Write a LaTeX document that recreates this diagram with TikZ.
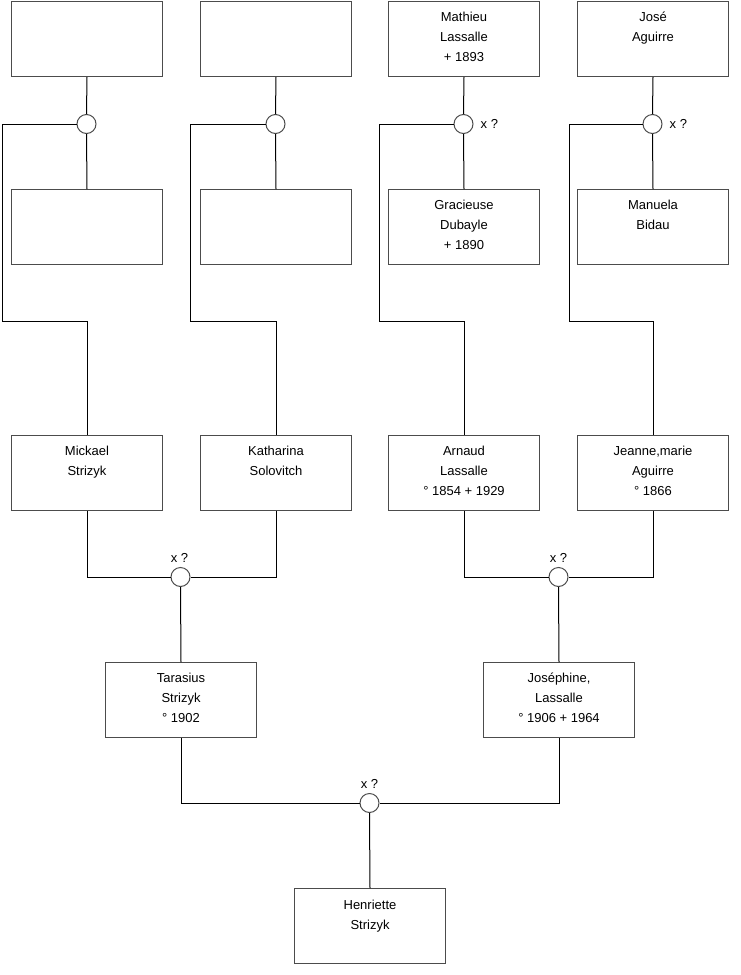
\documentclass[tikz,border=0pt]{standalone}
\usepackage{fontspec}
\setmainfont{Liberation Sans}
\begin{document}
\begin{tikzpicture}[x=1pt,y=-1pt,
  box/.style={draw=black!70, line width=1pt, minimum width=151pt, minimum height=75pt, inner sep=0pt, anchor=north west, fill=white},
  txt/.style={anchor=north, align=center, inner sep=0pt, font=\fontsize{13}{20}\selectfont},
  ring/.style={circle, draw=black!70, line width=1pt, minimum size=19pt, inner sep=0pt, fill=white},
  wire/.style={draw=black, line width=1pt},
  lbl/.style={font=\fontsize{13}{15}\selectfont, inner sep=0pt}]
\useasboundingbox (0,0) rectangle (740,975);
% boxes
\node[box] (a1) at (11,1) {};
\node[box] (a2) at (200,1) {};
\node[box] (a3) at (388,1) {};
\node[box] (a4) at (577,1) {};
\node[box] (b1) at (11,189) {};
\node[box] (b2) at (200,189) {};
\node[box] (b3) at (388,189) {};
\node[box] (b4) at (577,189) {};
\node[box] (c1) at (11,435) {};
\node[box] (c2) at (200,435) {};
\node[box] (c3) at (388,435) {};
\node[box] (c4) at (577,435) {};
\node[box] (d1) at (105,662) {};
\node[box] (d2) at (483,662) {};
\node[box] (e1) at (294,888) {};
% texts
\node[txt] (ta3) at ([yshift=-11pt]a3.north) {Mathieu\\Lassalle\\+ 1893};
\node[txt] (ta4) at ([yshift=-11pt]a4.north) {José\\Aguirre};
\node[txt] (tb3) at ([yshift=-11pt]b3.north) {Gracieuse\\Dubayle\\+ 1890};
\node[txt] (tb4) at ([yshift=-11pt]b4.north) {Manuela\\Bidau};
\node[txt] (tc1) at ([yshift=-11pt]c1.north) {Mickael\\Strizyk};
\node[txt] (tc2) at ([yshift=-11pt]c2.north) {Katharina\\Solovitch};
\node[txt] (tc3) at ([yshift=-11pt]c3.north) {Arnaud\\Lassalle\\° 1854 + 1929};
\node[txt] (tc4) at ([yshift=-11pt]c4.north) {Jeanne,marie\\Aguirre\\° 1866};
\node[txt] (td1) at ([yshift=-11pt]d1.north) {Tarasius\\Strizyk\\° 1902};
\node[txt] (td2) at ([yshift=-11pt]d2.north) {Joséphine,\\Lassalle\\° 1906 + 1964};
\node[txt] (te1) at ([yshift=-12pt]e1.north) {Henriette\\Strizyk};
% rings
\node[ring] (r1) at (86.5,124) {};
\node[ring] (r2) at (275.5,124) {};
\node[ring] (r3) at (463.5,124) {};
\node[ring] (r4) at (652.5,124) {};
\node[ring] (r5) at (180.5,577) {};
\node[ring] (r6) at (558.5,577) {};
\node[ring] (r7) at (369.5,803) {};
% corner coordinates
\coordinate (k1) at (2,321);
\coordinate (k2) at (190,321);
\coordinate (k3) at (379,321);
\coordinate (k4) at (569,321);
% wires
\foreach \i in {1,2,3,4}{
  \draw[wire] (a\i.south) -- (r\i.north);
  \draw[wire] (r\i.south) -- (b\i.north);
  \draw[wire] (r\i.west) -| (k\i) -| (c\i.north);
}
\draw[wire] (c1.south) |- (r5.west);
\draw[wire] (c2.south) |- (r5.east);
\draw[wire] (r5.south) -- (d1.north);
\draw[wire] (c3.south) |- (r6.west);
\draw[wire] (c4.south) |- (r6.east);
\draw[wire] (r6.south) -- (d2.north);
\draw[wire] (d1.south) |- (r7.west);
\draw[wire] (d2.south) |- (r7.east);
\draw[wire] (r7.south) -- (e1.north);
% labels
\node[lbl, anchor=west] (l3) at ([xshift=7pt]r3.east) {x ?};
\node[lbl, anchor=west] (l4) at ([xshift=7pt]r4.east) {x ?};
\node[lbl, anchor=south] (l5) at ([xshift=-1pt,yshift=4pt]r5.north) {x ?};
\node[lbl, anchor=south] (l6) at ([yshift=4pt]r6.north) {x ?};
\node[lbl, anchor=south] (l7) at ([yshift=4pt]r7.north) {x ?};
\end{tikzpicture}
\end{document}
